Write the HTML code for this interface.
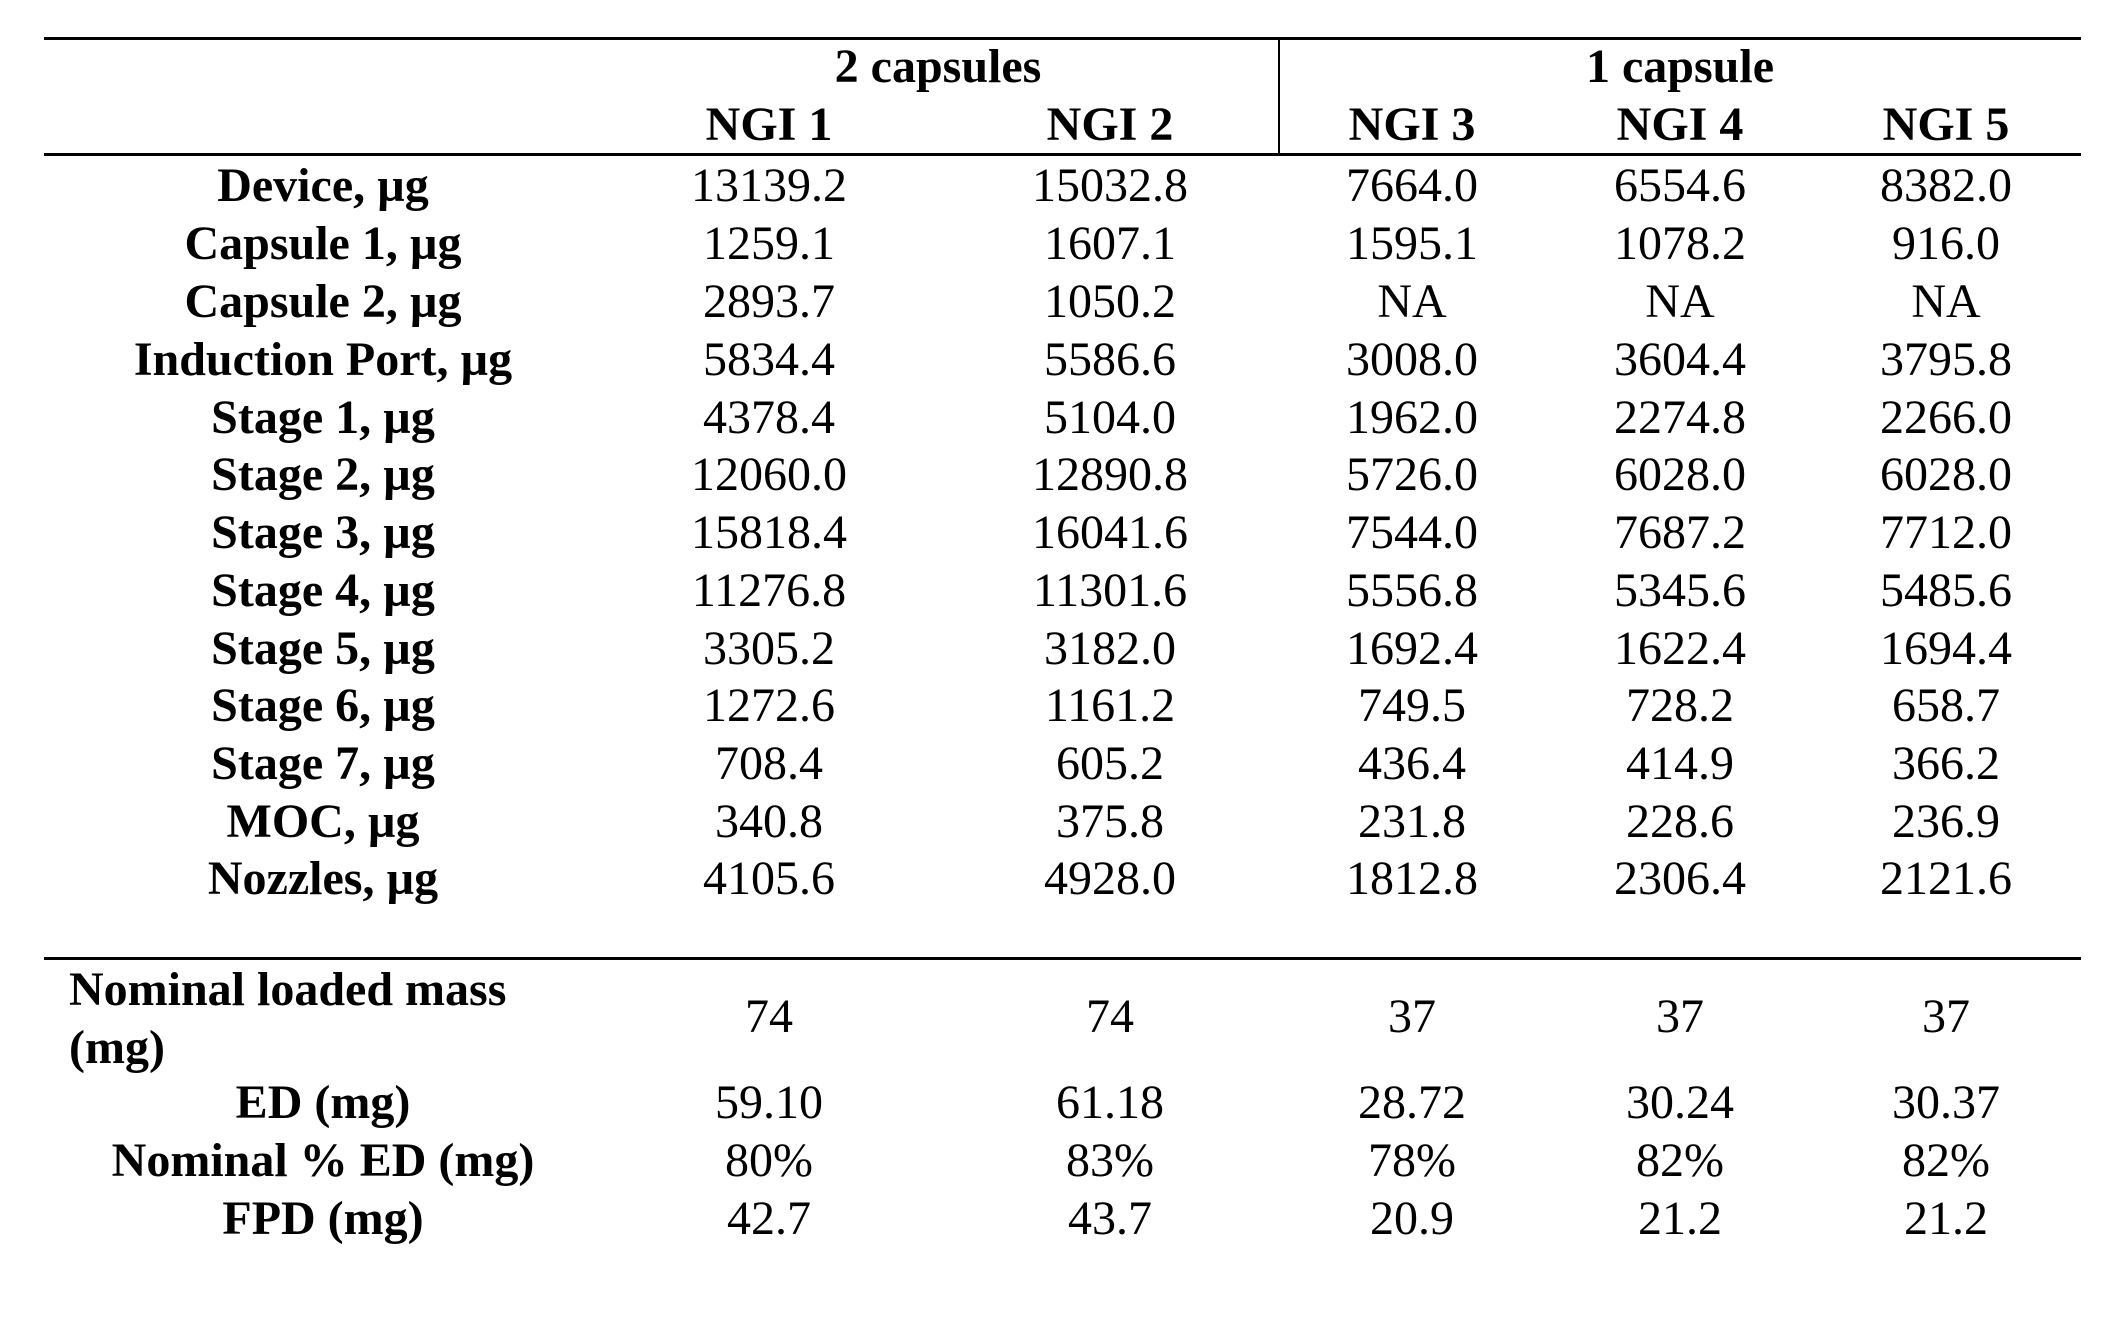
<!DOCTYPE html>
<html><head><meta charset="utf-8"><style>
html,body{margin:0;padding:0;background:#fff;}
body{width:2107px;height:1324px;position:relative;overflow:hidden;font-family:"Liberation Serif",serif;font-size:48px;color:#000;}
.t{position:absolute;line-height:56px;white-space:nowrap;transform:translateX(-50%);}
.b{font-weight:bold;}
.l{position:absolute;background:#000;}
</style></head><body>
<div class="l" style="left:44px;top:37px;width:2037px;height:3px"></div>
<div class="l" style="left:44px;top:153px;width:2037px;height:3px"></div>
<div class="l" style="left:1278px;top:39px;width:2px;height:115px"></div>
<div class="l" style="left:44px;top:957px;width:2037px;height:3px"></div>
<div id="c"></div>
<script>
var xs=[769,1110,1412,1680,1946];
var H=[["2 capsules",938,69],["1 capsule",1680,69],["NGI 1",769,127],["NGI 2",1110,127],["NGI 3",1412,127],["NGI 4",1680,127],["NGI 5",1946,127]];
var R=[
["Device, µg","13139.2","15032.8","7664.0","6554.6","8382.0"],
["Capsule 1, µg","1259.1","1607.1","1595.1","1078.2","916.0"],
["Capsule 2, µg","2893.7","1050.2","NA","NA","NA"],
["Induction Port, µg","5834.4","5586.6","3008.0","3604.4","3795.8"],
["Stage 1, µg","4378.4","5104.0","1962.0","2274.8","2266.0"],
["Stage 2, µg","12060.0","12890.8","5726.0","6028.0","6028.0"],
["Stage 3, µg","15818.4","16041.6","7544.0","7687.2","7712.0"],
["Stage 4, µg","11276.8","11301.6","5556.8","5345.6","5485.6"],
["Stage 5, µg","3305.2","3182.0","1692.4","1622.4","1694.4"],
["Stage 6, µg","1272.6","1161.2","749.5","728.2","658.7"],
["Stage 7, µg","708.4","605.2","436.4","414.9","366.2"],
["MOC, µg","340.8","375.8","231.8","228.6","236.9"],
["Nozzles, µg","4105.6","4928.0","1812.8","2306.4","2121.6"]];
var ys=[188,246,304,362,420,477,535,593,651,708,766,824,881];
var h="";
function t(s,x,y,b){h+='<div class="t'+(b?' b':'')+'" style="left:'+x+'px;top:'+(y-30)+'px">'+s+'</div>';}
H.forEach(function(a){t(a[0],a[1],a[2],1)});
R.forEach(function(r,i){t(r[0],323,ys[i],1);for(var j=1;j<6;j++)t(r[j],xs[j-1],ys[i]);});
h+='<div class="t b" style="left:69px;top:962px;transform:none">Nominal loaded mass</div>';
h+='<div class="t b" style="left:69px;top:1020px;transform:none">(mg)</div>';
["74","74","37","37","37"].forEach(function(v,j){t(v,xs[j],1019)});
var B=[["ED (mg)","59.10","61.18","28.72","30.24","30.37",1105],["Nominal % ED (mg)","80%","83%","78%","82%","82%",1163],["FPD (mg)","42.7","43.7","20.9","21.2","21.2",1221]];
B.forEach(function(r){t(r[0],323,r[6],1);for(var j=1;j<6;j++)t(r[j],xs[j-1],r[6]);});
document.getElementById("c").innerHTML=h;
</script>
</body></html>
